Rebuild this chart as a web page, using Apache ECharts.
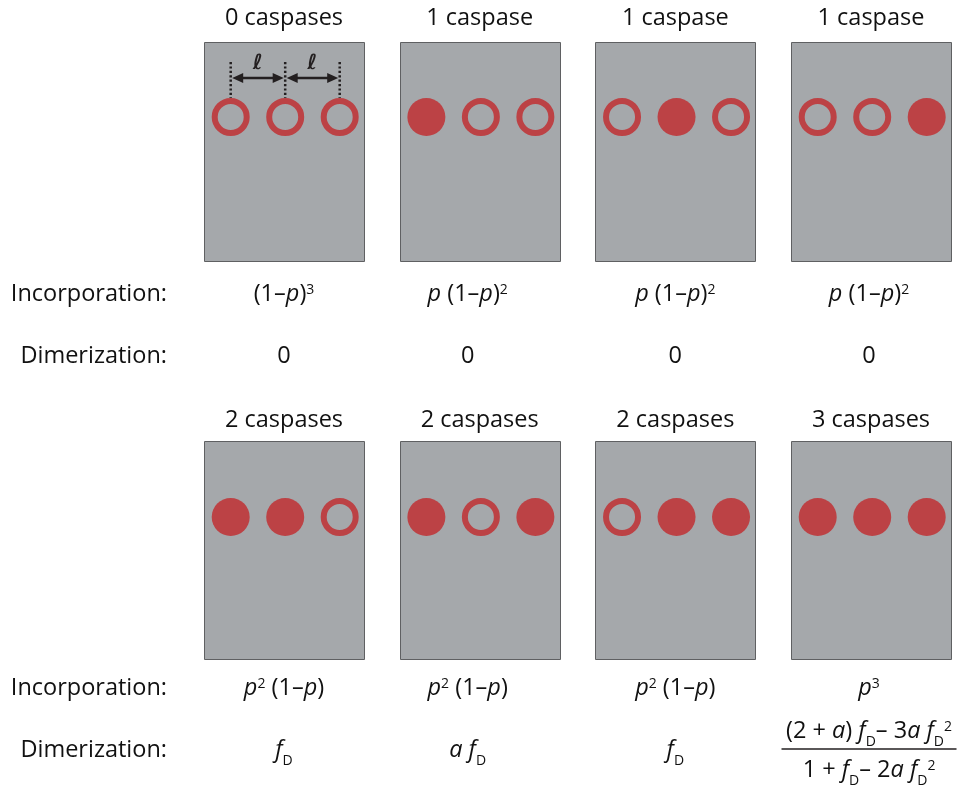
<!DOCTYPE html>
<html><head><meta charset="utf-8">
<script src="https://cdn.jsdelivr.net/npm/echarts@6/dist/echarts.min.js"></script>
<style>html,body{margin:0;padding:0;background:#fff}#c{width:960px;height:789px}</style>
</head><body><div id="c"></div>
<script>
// ---------------- data ----------------
const panelTitles = ['0 caspases','1 caspase','1 caspase','1 caspase','2 caspases','2 caspases','2 caspases','3 caspases'];
// 1 = caspase present (filled circle), 0 = empty site (ring)
const caspaseStates = [[0,0,0],[1,0,0],[0,1,0],[0,0,1],[1,1,0],[1,0,1],[0,1,1],[1,1,1]];
const incorporationLabels = [
  '(1–{i|p}){sup|3}', '{i|p} (1–{i|p}){sup|2}', '{i|p} (1–{i|p}){sup|2}', '{i|p} (1–{i|p}){sup|2}',
  '{i|p}{sup|2} (1–{i|p})', '{i|p}{sup|2} (1–{i|p})', '{i|p}{sup|2} (1–{i|p})', '{i|p}{sup|3}'
];
const dimerizationLabels = ['0','0','0','0','{i|f}{sub|D}','{i|a f}{sub|D}','{i|f}{sub|D}',''];
const dimerizationNumerator = '(2 + {i|a}) {i|f}{sub|D}– 3{i|a f}{sub|D}{sup|2}';
const dimerizationDenominator = '1 + {i|f}{sub|D}– 2{i|a f}{sub|D}{sup|2}';
const rowLabels = ['Incorporation:', 'Dimerization:'];
const spacingSymbol = 'ℓ';

// ---------------- layout ----------------
const W = 960, H = 789;
const COLS = 4;
const colPx = 195.67, col0Px = 284;
const xMin = -col0Px / colPx, xMax = xMin + W / colPx;
const u = px => px / colPx;
const panelHalf = u(80);
const circleDx = u(54.5), circleShift = u(1.2);
const textColX = [0, u(-12), 0, u(-2)];
const rows = [
  {title: 18, top: 42, bottom: 261, circle: 117, inc: 294, dim: 356, dimTop: 62, arrowY: 78, ellY: 64},
  {title: 420, top: 441, bottom: 659, circle: 517, inc: 688, dim: 750, num: 731, den: 770, bar: 749}
];
const labelRightX = xMin + u(167);
const RED = '#bc4245', GRAY = '#a5a8ab', EDGE = '#5f6062', TXT = '#111111';
const FONT = '"Open Sans", "Noto Sans", sans-serif';
const FS = 23.5, LH = 36;

// ---------------- series data ----------------
const panelData = panelTitles.map((t, i) => [i % COLS, Math.floor(i / COLS)]);
const filled = [], hollow = [];
caspaseStates.forEach((s, i) => {
  const c = i % COLS, r = Math.floor(i / COLS);
  s.forEach((v, j) => {
    const pt = [c + (j - 1) * circleDx + circleShift, rows[r].circle];
    (v ? filled : hollow).push(pt);
  });
});

const textItems = [];
const addText = (x, y, str, extra) => textItems.push({value: [x, y], label: Object.assign({formatter: () => str}, extra || {})});
panelTitles.forEach((t, i) => {
  const c = i % COLS, r = Math.floor(i / COLS);
  addText(c, rows[r].title, t);
  addText(c + textColX[c], rows[r].inc, incorporationLabels[i]);
  if (dimerizationLabels[i]) addText(c + textColX[c], rows[r].dim, dimerizationLabels[i]);
});
addText(3 + textColX[3], rows[1].num, dimerizationNumerator);
addText(3 + textColX[3], rows[1].den, dimerizationDenominator);
rows.forEach(r => {
  addText(labelRightX, r.inc, rowLabels[0], {align: 'right'});
  addText(labelRightX, r.dim, rowLabels[1], {align: 'right'});
});

const chart = echarts.init(document.getElementById('c'), null, {renderer: 'canvas'});
chart.setOption({
  animation: false,
  backgroundColor: '#ffffff',
  grid: {left: 0, right: 0, top: 0, bottom: 0},
  xAxis: {type: 'value', min: xMin, max: xMax, show: false},
  yAxis: {type: 'value', min: 0, max: H, inverse: true, show: false},
  series: [
    { // panels
      type: 'custom', silent: true, z: 1, data: panelData,
      renderItem: (params, api) => {
        const c = api.value(0), L = rows[api.value(1)];
        const a = api.coord([c - panelHalf, L.top]), b = api.coord([c + panelHalf, L.bottom]);
        const x0 = Math.round(a[0]) + 0.5, y0 = Math.round(a[1]) + 0.5;
        const x1 = Math.round(b[0]) + 0.5, y1 = Math.round(b[1]) + 0.5;
        return {type: 'rect', shape: {x: x0, y: y0, width: x1 - x0, height: y1 - y0},
                style: {fill: GRAY, stroke: EDGE, lineWidth: 1}};
      }
    },
    { type: 'scatter', silent: true, z: 3, symbol: 'circle', symbolSize: 38,
      itemStyle: {color: RED, opacity: 1}, data: filled },
    { type: 'scatter', silent: true, z: 3, symbol: 'circle', symbolSize: 32,
      itemStyle: {color: 'rgba(0,0,0,0)', borderColor: RED, borderWidth: 6, opacity: 1}, data: hollow },
    { // spacing annotation in first panel
      type: 'custom', silent: true, z: 4, data: [[0, 0]],
      renderItem: (params, api) => {
        const L = rows[0];
        const xs = [0, 1, 2].map(j => api.coord([(j - 1) * circleDx + circleShift, L.circle])[0]);
        const yT = api.coord([0, L.dimTop])[1], yB = api.coord([0, L.circle])[1] - 19;
        const ay = api.coord([0, L.arrowY])[1], ey = api.coord([0, L.ellY])[1];
        const children = [];
        xs.forEach(x => children.push({type: 'line', shape: {x1: x, y1: yT, x2: x, y2: yB},
          style: {stroke: '#231f20', lineWidth: 2.5, lineDash: [2.2, 2.2]}}));
        for (let k = 0; k < 2; k++) {
          const xa = xs[k] + 1.5, xb = xs[k + 1] - 1.5, hl = 11, hw = 5;
          children.push({type: 'line', shape: {x1: xa + hl - 1, y1: ay, x2: xb - hl + 1, y2: ay}, style: {stroke: '#231f20', lineWidth: 2.5}});
          children.push({type: 'polygon', shape: {points: [[xa, ay], [xa + hl, ay - hw], [xa + hl, ay + hw]]}, style: {fill: '#231f20'}});
          children.push({type: 'polygon', shape: {points: [[xb, ay], [xb - hl, ay - hw], [xb - hl, ay + hw]]}, style: {fill: '#231f20'}});
          children.push({type: 'text', style: {text: spacingSymbol, x: (xs[k] + xs[k + 1]) / 2, y: ey,
            align: 'center', verticalAlign: 'middle', fontSize: 21, fontWeight: 'bold', fontStyle: 'italic',
            fontFamily: '"DejaVu Sans", sans-serif', fill: '#231f20'}});
        }
        return {type: 'group', children};
      }
    },
    { // fraction bar
      type: 'custom', silent: true, z: 4, data: [[3, 1]],
      renderItem: (params, api) => {
        const c = api.value(0) + textColX[3], L = rows[api.value(1)];
        const a = api.coord([c - u(87.5), L.bar]), b = api.coord([c + u(87.5), L.bar]);
        return {type: 'line', shape: {x1: a[0], y1: a[1], x2: b[0], y2: b[1]}, style: {stroke: '#231f20', lineWidth: 1.5}};
      }
    },
    { // texts
      type: 'scatter', silent: true, z: 5, symbol: 'circle', symbolSize: 0,
      itemStyle: {color: 'rgba(0,0,0,0)'},
      label: {
        show: true, position: 'inside', align: 'center', verticalAlign: 'middle',
        fontFamily: FONT, fontSize: FS, color: TXT, opacity: 1, lineHeight: LH,
        textBorderWidth: 0,
        rich: {
          i: {fontFamily: FONT, fontSize: FS, fontStyle: 'italic', color: TXT, lineHeight: LH, verticalAlign: 'middle'},
          sup: {fontFamily: FONT, fontSize: 14, color: TXT, lineHeight: 14, padding: [0, 0, 8, 0], verticalAlign: 'middle'},
          sub: {fontFamily: FONT, fontSize: 14, color: TXT, lineHeight: 14, verticalAlign: 'bottom'}
        }
      },
      labelLayout: {hideOverlap: false},
      data: textItems
    }
  ]
});
</script>
</body></html>
